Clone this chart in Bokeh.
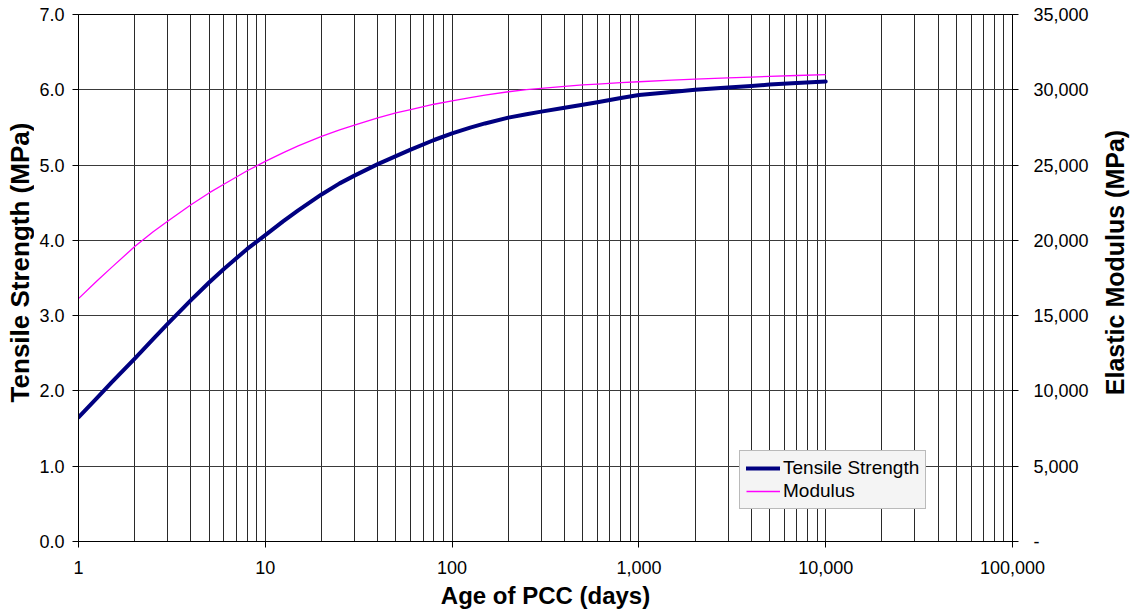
import math
from bokeh.plotting import figure
from bokeh.layouts import row
from bokeh.models import Range1d, LinearAxis, FixedTicker, Legend, LegendItem, Label
from bokeh.embed import file_html
from bokeh.resources import INLINE

# ---- data ----
days = [1, 1.25, 1.5, 2, 2.5, 3, 4, 5, 6, 8, 10, 12.5, 15, 20, 25, 30, 40, 50, 60,
        80, 100, 125, 150, 200, 250, 300, 400, 500, 600, 800, 1000, 1500, 2000,
        3000, 4000, 5000, 7000, 10000]
tensile_mpa = [1.65, 1.90, 2.11, 2.43, 2.685, 2.89, 3.205, 3.44, 3.62, 3.886,
               4.07, 4.255, 4.397, 4.61, 4.757, 4.86, 5.012, 5.119, 5.206, 5.333,
               5.42, 5.498, 5.553, 5.63, 5.674, 5.71, 5.761, 5.80, 5.835, 5.891,
               5.93, 5.971, 6.0, 6.031, 6.05, 6.07, 6.09, 6.11]
modulus_mpa = [16130, 17290, 18190, 19590, 20550, 21270, 22360, 23150, 23730,
               24620, 25250, 25830, 26270, 26900, 27340, 27660, 28140, 28460,
               28690, 29040, 29270, 29480, 29640, 29870, 30010, 30100, 30230,
               30320, 30380, 30470, 30535, 30640, 30705, 30790, 30845, 30890,
               30950, 31010]

x_major = [1, 10, 100, 1000, 10000, 100000]
x_tick_labels = ["1", "10", "100", "1,000", "10,000", "100,000"]
x_minor = [m * d for d in [1, 10, 100, 1000, 10000] for m in range(2, 10)]
left_ticks = [0, 1, 2, 3, 4, 5, 6, 7]
left_tick_labels = ["0.0", "1.0", "2.0", "3.0", "4.0", "5.0", "6.0", "7.0"]
right_ticks = [0, 5000, 10000, 15000, 20000, 25000, 30000, 35000]
right_tick_labels = ["-", "5,000", "10,000", "15,000", "20,000", "25,000", "30,000", "35,000"]
left_title = "Tensile Strength (MPa)"
right_title = "Elastic Modulus (MPa)"
x_title = "Age of PCC (days)"

FONT = "Liberation Sans"
H = 616
LEFT_W, RIGHT_W = 34, 36
FRAME_TOP, FRAME_BOTTOM = 14, 541
TITLE_CY = 262   # vertical centre of the side titles (page px)

p = figure(width=1136 - LEFT_W - RIGHT_W, height=H, x_axis_type="log",
           x_range=Range1d(1, 100000), y_range=Range1d(0, 7),
           output_backend="svg", toolbar_location=None,
           min_border_left=78 - LEFT_W, min_border_right=1136 - RIGHT_W - 1012,
           min_border_top=FRAME_TOP, min_border_bottom=H - FRAME_BOTTOM)
p.background_fill_color = "white"
p.border_fill_color = "white"
p.outline_line_color = "black"
p.outline_line_width = 1

p.extra_y_ranges = {"mod": Range1d(0, 35000)}

# grids
p.xgrid.grid_line_color = "#2a2a2a"
p.xgrid.grid_line_width = 1
p.xgrid.minor_grid_line_color = "#2a2a2a"
p.xgrid.minor_grid_line_width = 1
p.ygrid.grid_line_color = "#3a3a3a"
p.ygrid.grid_line_width = 1

# x axis
xa = p.xaxis[0]
xa.ticker = FixedTicker(ticks=x_major, minor_ticks=x_minor)
xa.major_label_overrides = {t: l for t, l in zip(x_major, x_tick_labels)}
xa.axis_label = x_title

# left axis
ya = p.yaxis[0]
ya.ticker = FixedTicker(ticks=left_ticks)
ya.major_label_overrides = {t: l for t, l in zip(left_ticks, left_tick_labels)}

# right axis
ra = LinearAxis(y_range_name="mod", ticker=FixedTicker(ticks=right_ticks))
ra.major_label_overrides = {t: l for t, l in zip(right_ticks, right_tick_labels)}
p.add_layout(ra, "right")

for ax in [xa, ya, ra]:
    ax.axis_line_color = "black"
    ax.axis_line_width = 1
    ax.major_tick_line_color = "black"
    ax.major_tick_out = 6
    ax.major_tick_in = 0
    ax.minor_tick_out = 0
    ax.minor_tick_in = 0
    ax.minor_tick_line_color = None
    ax.major_label_text_font = FONT
    ax.major_label_text_font_size = "18px"
    ax.major_label_text_color = "black"
    ax.axis_label_text_font = FONT
    ax.axis_label_text_font_size = "24px"
    ax.axis_label_text_font_style = "bold"
    ax.axis_label_text_color = "black"

xa.major_label_standoff = 13
xa.axis_label_standoff = 5
ya.major_label_standoff = 8
ra.major_label_standoff = 15

# series
r1 = p.line(days, tensile_mpa, line_color="#000080", line_width=4,
            line_join="round", line_cap="round")
r2 = p.line(days, modulus_mpa, line_color="#ff00ff", line_width=1.3,
            y_range_name="mod", line_join="round")

legend = Legend(items=[LegendItem(label="Tensile Strength", renderers=[r1]),
                       LegendItem(label="Modulus", renderers=[r2])],
                location=(661, 32))
legend.label_text_font = FONT
legend.label_text_font_size = "19px"
legend.label_text_color = "black"
legend.glyph_width = 34
legend.glyph_height = 22
legend.label_height = 22
legend.label_standoff = 3
legend.spacing = 1
legend.padding = 6
legend.margin = 0
legend.border_line_color = "#808080"
legend.border_line_width = 1
legend.background_fill_color = "#f4f4f4"
legend.background_fill_alpha = 1
p.add_layout(legend, "center")


def title_strip(width, text, cx, size):
    f = figure(width=width, height=H, x_range=Range1d(0, 1), y_range=Range1d(0, 1),
               output_backend="svg", toolbar_location=None,
               min_border=0, min_border_left=0, min_border_right=0,
               min_border_top=FRAME_TOP, min_border_bottom=H - FRAME_BOTTOM)
    f.axis.visible = False
    f.grid.visible = False
    f.outline_line_color = None
    f.background_fill_color = "white"
    f.border_fill_color = "white"
    f.add_layout(Label(x=cx, y=FRAME_BOTTOM - TITLE_CY, x_units="screen", y_units="screen",
                       text=text, angle=math.pi / 2,
                       text_align="center", text_baseline="middle",
                       text_font=FONT, text_font_size=size,
                       text_font_style="bold", text_color="black"))
    return f


left_strip = title_strip(LEFT_W, left_title, 19, "26px")
right_strip = title_strip(RIGHT_W, right_title, 14, "25px")

layout = row(left_strip, p, right_strip, spacing=0)

open("out.html", "w").write(file_html(layout, INLINE))
